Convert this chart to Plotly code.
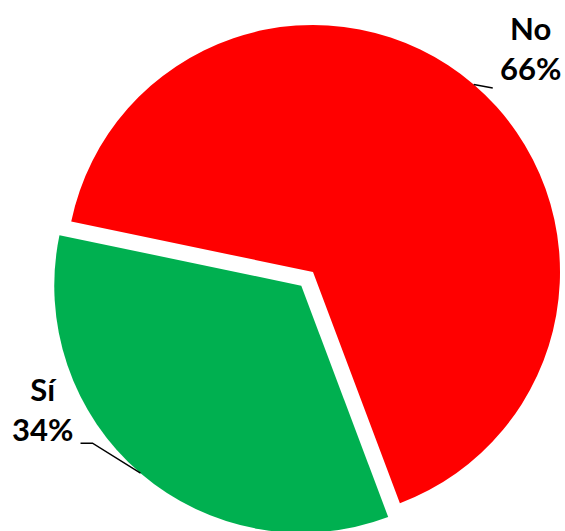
import math
import plotly.graph_objects as go

# ---- data ----
labels = ["No", "Sí"]
values = [66, 34]
colors = ["#FF0000", "#00B050"]
pulls = [0, 0.073]

# ---- layout / geometry (pixels) ----
FIG_W, FIG_H = 580, 545
CX, CY, R = 313, 272, 247
ROTATION = 281.8  # degrees, clockwise from 12 o'clock, start of first slice

# leader-line elbow and end, and text centre, relative to the slice-edge point
label_geom = [
    {"elbow": (19, 3.5), "end": (19, 3.5), "text": (57, -36)},
    {"elbow": (-48, -30), "end": (-60, -30), "text": (-98, -64)},
]

max_pull = max(pulls)
half = R * (1 + max_pull)
dom_x = [(CX - half) / FIG_W, (CX + half) / FIG_W]
dom_y = [1 - (CY + half) / FIG_H, 1 - (CY - half) / FIG_H]


def px(x, y):
    return x / FIG_W, 1 - y / FIG_H


fig = go.Figure(
    go.Pie(
        labels=labels,
        values=values,
        marker=dict(colors=colors, line=dict(width=0)),
        pull=pulls,
        sort=False,
        direction="clockwise",
        rotation=ROTATION,
        textinfo="none",
        hoverinfo="label+percent",
        showlegend=False,
        domain=dict(x=dom_x, y=dom_y),
    )
)

total = sum(values)
cum = 0
shapes = []
annotations = []
for i, v in enumerate(values):
    mid = math.radians(ROTATION + 360 * (cum + v / 2) / total)
    cum += v
    dx, dy = math.sin(mid), -math.cos(mid)
    cx = CX + pulls[i] * R * dx
    cy = CY + pulls[i] * R * dy
    ex, ey = cx + R * dx, cy + R * dy
    g = label_geom[i]
    p0 = px(ex, ey)
    p1 = px(ex + g["elbow"][0], ey + g["elbow"][1])
    p2 = px(ex + g["end"][0], ey + g["end"][1])
    shapes.append(
        dict(
            type="path",
            xref="paper",
            yref="paper",
            path=f"M {p0[0]},{p0[1]} L {p1[0]},{p1[1]} L {p2[0]},{p2[1]}",
            line=dict(color="black", width=1.5),
        )
    )
    tx, ty = px(ex + g["text"][0], ey + g["text"][1])
    pct = round(100 * v / total)
    annotations.append(
        dict(
            x=tx,
            y=ty,
            xref="paper",
            yref="paper",
            xanchor="center",
            yanchor="middle",
            showarrow=False,
            text=f"<b>{labels[i]}</b><br><b>{pct}%</b>",
            font=dict(family="Lato, sans-serif", size=31, color="black"),
            align="center",
        )
    )

fig.update_layout(
    width=FIG_W,
    height=FIG_H,
    margin=dict(l=0, r=0, t=0, b=0),
    paper_bgcolor="white",
    plot_bgcolor="white",
    shapes=shapes,
    annotations=annotations,
)

fig.write_html(
    "out.html",
    config={"displayModeBar": False},
    post_script=(
        "document.documentElement.style.overflow='hidden';"
        "document.body.style.overflow='hidden';"
        "document.body.style.margin='0';"
    ),
)
